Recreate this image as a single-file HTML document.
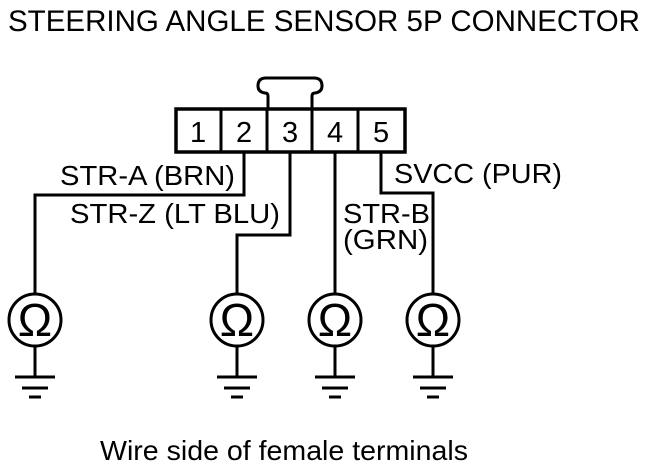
<!DOCTYPE html>
<html><head><style>body{margin:0;background:#fff}svg{display:block}</style></head><body>
<svg width="672" height="468" viewBox="0 0 672 468" xmlns="http://www.w3.org/2000/svg" font-family="Liberation Sans, sans-serif">
<rect width="672" height="468" fill="#fff"/>
<text x="8" y="31" font-size="30" textLength="632" lengthAdjust="spacingAndGlyphs">STEERING ANGLE SENSOR 5P CONNECTOR</text>
<g fill="none" stroke="#000" stroke-width="3">
<rect x="176" y="109" width="229" height="43" stroke-width="3.5"/>
<line x1="221" y1="109" x2="221" y2="152"/>
<line x1="267" y1="109" x2="267" y2="152"/>
<line x1="312" y1="109" x2="312" y2="152"/>
<line x1="358" y1="109" x2="358" y2="152"/>
<path d="M268 109 V96 Q268 93 265 93 Q258 92 258 86 Q258 78 266 78 H314 Q322 78 322 86 Q322 92 315 93 Q312 93 312 96 V109"/>
<path d="M244 152 V195 H35 V293"/>
<path d="M290 152 V235 H237 V293"/>
<path d="M335 152 V293"/>
<path d="M381 152 V193 H433 V293"/>
<circle cx="35" cy="320" r="26"/>
<circle cx="237" cy="320" r="26"/>
<circle cx="335" cy="320" r="26"/>
<circle cx="433" cy="320" r="26"/>
<g id="g">
<path d="M35 346 V377 M15 377 H55 M22 388 H48 M29 397 H41"/>
</g>
<use href="#g" x="202"/>
<use href="#g" x="300"/>
<use href="#g" x="398"/>
</g>
<g font-size="29">
<text x="190" y="142">1</text>
<text x="236" y="142">2</text>
<text x="282" y="142">3</text>
<text x="327" y="142">4</text>
<text x="373" y="142">5</text>
</g>
<g font-size="28">
<text x="60" y="185" textLength="175" lengthAdjust="spacingAndGlyphs">STR-A (BRN)</text>
<text x="70" y="223" textLength="210" lengthAdjust="spacingAndGlyphs">STR-Z (LT BLU)</text>
<text x="394" y="183" textLength="168" lengthAdjust="spacingAndGlyphs">SVCC (PUR)</text>
<text x="343" y="223" textLength="87" lengthAdjust="spacingAndGlyphs">STR-B</text>
<text x="343" y="249" textLength="85" lengthAdjust="spacingAndGlyphs">(GRN)</text>
<text x="100" y="460" textLength="368" lengthAdjust="spacingAndGlyphs">Wire side of female terminals</text>
</g>
<g font-size="46" text-anchor="middle">
<text x="35" y="336">Ω</text>
<text x="237" y="336">Ω</text>
<text x="335" y="336">Ω</text>
<text x="433" y="336">Ω</text>
</g>
</svg>
</body></html>
